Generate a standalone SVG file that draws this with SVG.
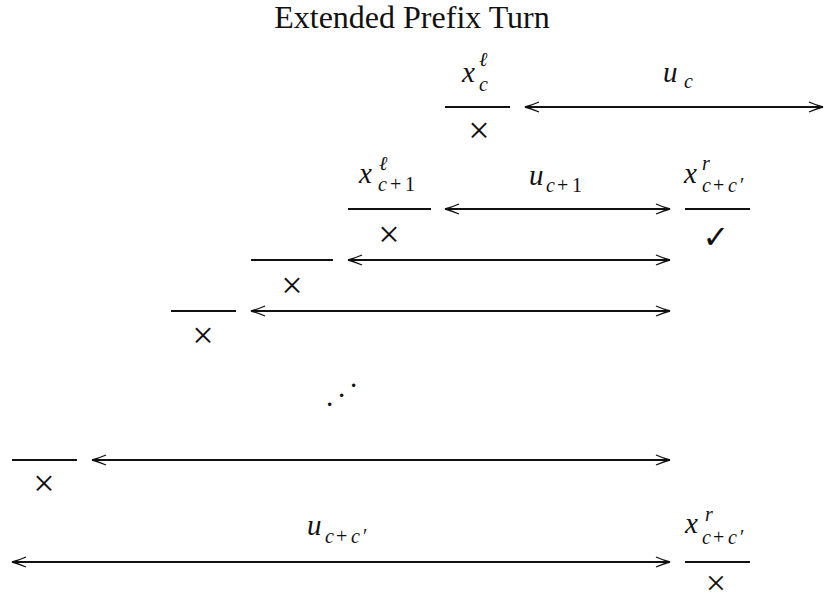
<svg xmlns="http://www.w3.org/2000/svg" width="824" height="603" viewBox="0 0 824 603">
<style>
text,tspan{font-family:"Liberation Serif","DejaVu Serif","Times New Roman",serif;fill:#111}
.t{font-size:32px}
.m{font-size:29px;font-style:italic}
.s{font-size:20px;font-style:italic}
.r{font-size:20px;font-style:normal}
.x{font-size:38px}
.xb{font-size:36px}
.ck{font-family:"DejaVu Sans",sans-serif;font-size:32px}
.ln{stroke:#111;stroke-width:2;fill:none}
.ar{stroke:#111;stroke-width:2;fill:none;marker-start:url(#ah);marker-end:url(#ah)}
</style>
<defs>
<marker id="ah" viewBox="-15 -6 16 12" refX="0" refY="0" markerWidth="16" markerHeight="12" markerUnits="userSpaceOnUse" orient="auto-start-reverse">
<path d="M-14,-5 Q-6,-1.5 0,0 Q-6,1.5 -14,5" fill="none" stroke="#111" stroke-width="1.3"/>
</marker>
</defs>
<rect width="824" height="603" fill="#fff"/>
<text class="t" x="412" y="28" text-anchor="middle">Extended Prefix Turn</text>

<g id="connectors">
<line class="ar" x1="525" y1="107" x2="823" y2="107"/>
<line class="ar" x1="445" y1="209" x2="670" y2="209"/>
<line class="ar" x1="348" y1="260" x2="670" y2="260"/>
<line class="ar" x1="251" y1="311" x2="670" y2="311"/>
<line class="ar" x1="92" y1="460" x2="670" y2="460"/>
<line class="ar" x1="12" y1="562" x2="670" y2="562"/>
</g>

<g id="labels">
<text><tspan class="m" x="663" y="82">u</tspan><tspan class="s" x="684" y="88">c</tspan></text>
<text><tspan class="m" x="529" y="185">u</tspan><tspan class="s" x="546" y="192">c</tspan><tspan class="r" x="557" y="192">+</tspan><tspan class="r" x="572" y="192">1</tspan></text>
<text><tspan class="m" x="307" y="535">u</tspan><tspan class="s" x="325" y="543">c</tspan><tspan class="r" x="336" y="543">+</tspan><tspan class="s" x="351" y="543">c</tspan><tspan class="r" x="363" y="543">′</tspan></text>
</g>

<g id="n1">
<line class="ln" x1="445" y1="107" x2="510" y2="107"/>
<text><tspan class="m" x="462" y="82">x</tspan><tspan class="s" x="479" y="66">ℓ</tspan><tspan class="s" x="479" y="91">c</tspan></text>
<text class="x" x="479" y="143" text-anchor="middle">×</text>
</g>

<g id="n2">
<line class="ln" x1="348" y1="209" x2="431" y2="209"/>
<text><tspan class="m" x="359" y="183">x</tspan><tspan class="s" x="379" y="170">ℓ</tspan><tspan class="s" x="378" y="191">c</tspan><tspan class="r" x="390" y="191">+</tspan><tspan class="r" x="405" y="191">1</tspan></text>
<text class="x" x="389" y="247" text-anchor="middle">×</text>
</g>

<g id="n2r">
<line class="ln" x1="685" y1="209" x2="750" y2="209"/>
<text><tspan class="m" x="684" y="183">x</tspan><tspan class="s" x="702" y="170">r</tspan><tspan class="s" x="702" y="192">c</tspan><tspan class="r" x="713" y="192">+</tspan><tspan class="s" x="728" y="192">c</tspan><tspan class="r" x="740" y="192">′</tspan></text>
<text class="ck" x="716" y="248" text-anchor="middle">✓</text>
</g>

<g id="n3">
<line class="ln" x1="251" y1="260" x2="333" y2="260"/>
<text class="x" x="292" y="298" text-anchor="middle">×</text>
</g>

<g id="n4">
<line class="ln" x1="171" y1="311" x2="236" y2="311"/>
<text class="x" x="203" y="348" text-anchor="middle">×</text>
</g>

<g id="dots">
<text class="m" x="326 338 350" y="406 397 387" style="font-style:normal">...</text>
</g>

<g id="n5">
<line class="ln" x1="12" y1="460" x2="77" y2="460"/>
<text class="x" x="44" y="496" text-anchor="middle">×</text>
</g>

<g id="n6">
<line class="ln" x1="685" y1="562" x2="750" y2="562"/>
<text><tspan class="m" x="685" y="533">x</tspan><tspan class="s" x="705" y="521">r</tspan><tspan class="s" x="702" y="544">c</tspan><tspan class="r" x="713" y="544">+</tspan><tspan class="s" x="728" y="544">c</tspan><tspan class="r" x="740" y="544">′</tspan></text>
<text class="xb" x="716" y="595" text-anchor="middle">×</text>
</g>
</svg>
